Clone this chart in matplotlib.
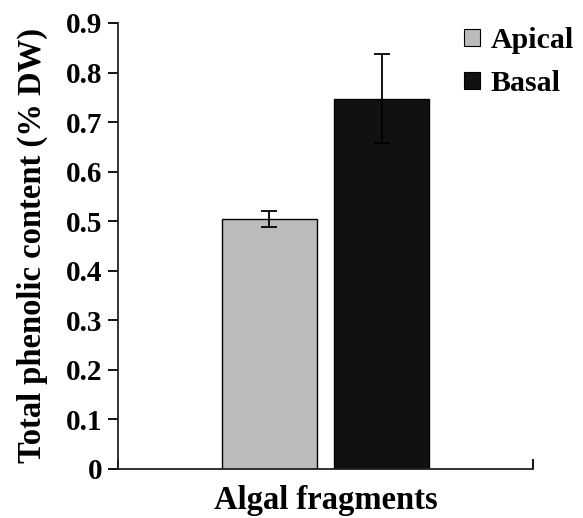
import numpy as np
import matplotlib
matplotlib.use("Agg")
import matplotlib.pyplot as plt
from matplotlib.patches import Patch

groups = ["Apical", "Basal"]
values = [0.505, 0.747]
errors = [0.016, 0.090]
colors = ["#bbbbbb", "#111111"]
yticks = [0, 0.1, 0.2, 0.3, 0.4, 0.5, 0.6, 0.7, 0.8, 0.9]

plt.rcParams["font.family"] = ["Liberation Serif", "DejaVu Serif"]
plt.rcParams["font.weight"] = "bold"

fig = plt.figure(figsize=(5.83, 5.18), dpi=100)
ax = fig.add_axes([0.2024, 0.0946, 0.7118, 0.861])

xpos = [0.365, 0.636]
ax.bar(xpos, values, width=0.229, color=colors, edgecolor="black", linewidth=1.0,
       yerr=errors, error_kw=dict(ecolor="black", elinewidth=1.3, capsize=6, capthick=1.3))

ax.set_xlim(0, 1)
ax.set_ylim(0, 0.9)
ax.set_yticks(yticks)
ax.set_yticklabels(["0" if v == 0 else f"{v:.1f}" for v in yticks])
ax.set_xticks([0, 1])
ax.set_xticklabels([])
ax.tick_params(axis="x", direction="in", length=7, width=1.3)
ax.tick_params(axis="y", direction="out", length=7, width=1.3, labelsize=21, pad=4)
for lab in ax.get_yticklabels():
    lab.set_fontweight("bold")

for s in ["top", "right"]:
    ax.spines[s].set_visible(False)
for s in ["left", "bottom"]:
    ax.spines[s].set_linewidth(1.3)
    ax.spines[s].set_color("#222222")

ax.set_ylabel("Total phenolic content (% DW)", fontsize=23.5, fontweight="bold")
ax.yaxis.set_label_coords(-0.168, 0.5)
ax.set_xlabel("Algal fragments", fontsize=23.5, fontweight="bold", va="top")
ax.xaxis.set_label_coords(0.5, -0.035)

handles = [Patch(facecolor=c, edgecolor="black", linewidth=0.8) for c in colors]
leg = fig.legend(handles, groups, loc="upper right", bbox_to_anchor=(1.03, 1.0),
                 frameon=False, prop={"size": 21.5, "weight": "bold"},
                 handlelength=0.52, handleheight=0.52, handletextpad=0.35, labelspacing=0.55)

fig.savefig("out.png", dpi=100)
